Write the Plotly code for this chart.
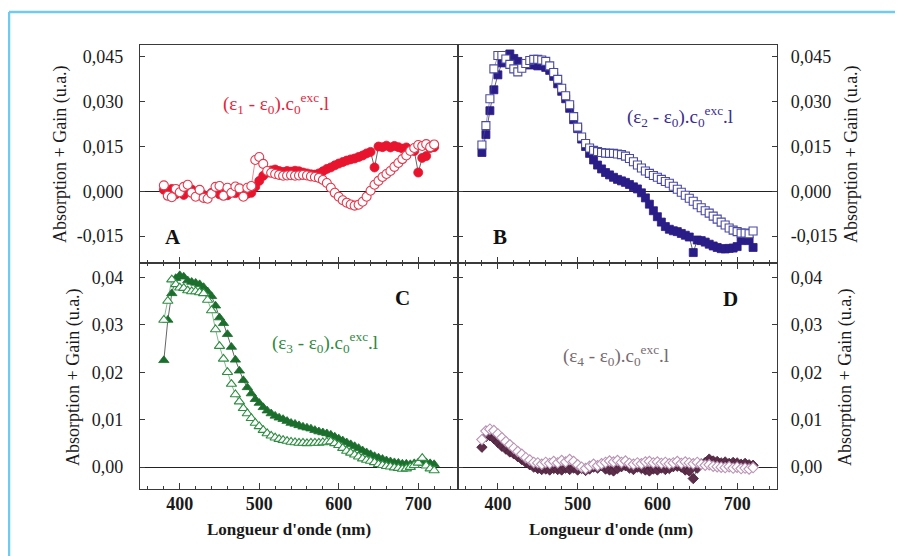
import plotly.graph_objects as go
from plotly.subplots import make_subplots

# ---------------- data ----------------
wavelength = [380, 385, 390, 395, 400, 405, 410, 415, 420, 425, 430, 435, 440, 445, 450,
              455, 460, 465, 470, 475, 480, 485, 490, 495, 500, 505, 510, 515, 520, 525,
              530, 535, 540, 545, 550, 555, 560, 565, 570, 575, 580, 585, 590, 595, 600,
              605, 610, 615, 620, 625, 630, 635, 640, 645, 650, 655, 660, 665, 670, 675,
              680, 685, 690, 695, 700, 705, 710, 715, 720]

a_filled = [0.0005, -0.0003, 0.0008, -0.0010, 0.0002, -0.0012, 0.0003, 0.0006, -0.0008, 0.0000,
            -0.0012, -0.0015, -0.0005, 0.0003, -0.0010, -0.0002, -0.0013, 0.0000, -0.0006, 0.0004,
            -0.0015, -0.0008, -0.0005, 0.0015, 0.0035, 0.0052, 0.0063, 0.0070, 0.0073, 0.0068,
            0.0065, 0.0068, 0.0066, 0.0069, 0.0067, 0.0063, 0.0060, 0.0057, 0.0056, 0.0060,
            0.0067, 0.0075, 0.0080, 0.0087, 0.0093, 0.0098, 0.0103, 0.0107, 0.0110, 0.0115,
            0.0120, 0.0127, 0.0132, 0.0080, 0.0150, 0.0148, 0.0153, 0.0147, 0.0152, 0.0148,
            0.0143, 0.0147, 0.0138, 0.0135, 0.0063, 0.0112, 0.0118, 0.0145, 0.0148]
a_open = [0.0020, -0.0015, -0.0020, 0.0008, -0.0003, 0.0015, 0.0022, -0.0005, -0.0018, 0.0005,
          -0.0022, -0.0025, -0.0008, 0.0015, 0.0018, -0.0015, 0.0012, -0.0005, 0.0016, 0.0010,
          -0.0018, 0.0012, 0.0018, 0.0105, 0.0115, 0.0092, 0.0068, 0.0062, 0.0058, 0.0055,
          0.0052, 0.0053, 0.0054, 0.0052, 0.0053, 0.0055, 0.0053, 0.0050, 0.0048, 0.0045,
          0.0038, 0.0028, 0.0012, -0.0005, -0.0018, -0.0030, -0.0038, -0.0044, -0.0048, -0.0045,
          -0.0035, -0.0018, 0.0002, 0.0022, 0.0035, 0.0048, 0.0058, 0.0068, 0.0082, 0.0095,
          0.0108, 0.0120, 0.0135, 0.0145, 0.0155, 0.0152, 0.0158, 0.0148, 0.0157]

b_filled = [0.0130, 0.0190, 0.0270, 0.0340, 0.0390, 0.0430, 0.0455, 0.0460, 0.0445, 0.0435,
            0.0425, 0.0428, 0.0423, 0.0425, 0.0420, 0.0422, 0.0415, 0.0405, 0.0385, 0.0360,
            0.0335, 0.0310, 0.0278, 0.0240, 0.0210, 0.0175, 0.0150, 0.0127, 0.0105, 0.0088,
            0.0075, 0.0063, 0.0055, 0.0047, 0.0040, 0.0035, 0.0030, 0.0023, 0.0015, 0.0008,
            -0.0005, -0.0022, -0.0043, -0.0065, -0.0085, -0.0103, -0.0118, -0.0127, -0.0132, -0.0135,
            -0.0141, -0.0147, -0.0153, -0.0205, -0.0163, -0.0165, -0.0170, -0.0177, -0.0183, -0.0188,
            -0.0192, -0.0193, -0.0191, -0.0190, -0.0185, -0.0165, -0.0158, -0.0165, -0.0188]
b_open = [0.0155, 0.0220, 0.0310, 0.0410, 0.0455, 0.0455, 0.0443, 0.0425, 0.0410, 0.0400,
          0.0412, 0.0428, 0.0438, 0.0442, 0.0442, 0.0440, 0.0435, 0.0420, 0.0398, 0.0375,
          0.0345, 0.0320, 0.0290, 0.0250, 0.0215, 0.0182, 0.0160, 0.0145, 0.0137, 0.0133,
          0.0130, 0.0128, 0.0127, 0.0127, 0.0125, 0.0123, 0.0118, 0.0110, 0.0099, 0.0088,
          0.0078, 0.0068, 0.0060, 0.0053, 0.0047, 0.0040, 0.0033, 0.0027, 0.0017, 0.0007,
          -0.0003, -0.0013, -0.0023, -0.0033, -0.0045, -0.0055, -0.0065, -0.0073, -0.0083, -0.0093,
          -0.0103, -0.0113, -0.0123, -0.0130, -0.0135, -0.0140, -0.0140, -0.0142, -0.0133]

c_filled = [0.0225, 0.0310, 0.0366, 0.0398, 0.0404, 0.0401, 0.0393, 0.0390, 0.0388, 0.0385,
            0.0379, 0.0370, 0.0360, 0.0340, 0.0315, 0.0303, 0.0280, 0.0253, 0.0226, 0.0203,
            0.0183, 0.0168, 0.0155, 0.0143, 0.0135, 0.0126, 0.0119, 0.0113, 0.0108, 0.0104,
            0.0101, 0.0097, 0.0093, 0.0091, 0.0088, 0.0085, 0.0083, 0.0081, 0.0078, 0.0075,
            0.0073, 0.0071, 0.0068, 0.0064, 0.0060, 0.0056, 0.0052, 0.0048, 0.0044, 0.0040,
            0.0035, 0.0031, 0.0027, 0.0023, 0.0020, 0.0017, 0.0014, 0.0012, 0.0010, 0.0009,
            0.0007, 0.0007, 0.0006, 0.0008, 0.0009, 0.0009, 0.0010, 0.0008, 0.0006]
c_open = [0.0310, 0.0350, 0.0395, 0.0385, 0.0378, 0.0377, 0.0372, 0.0370, 0.0370, 0.0368,
          0.0366, 0.0352, 0.0330, 0.0290, 0.0255, 0.0228, 0.0200, 0.0175, 0.0153, 0.0138,
          0.0124, 0.0113, 0.0103, 0.0093, 0.0086, 0.0078, 0.0071, 0.0066, 0.0062, 0.0059,
          0.0057, 0.0055, 0.0053, 0.0052, 0.0051, 0.0051, 0.0050, 0.0051, 0.0051, 0.0051,
          0.0052, 0.0053, 0.0054, 0.0050, 0.0046, 0.0040, 0.0034, 0.0030, 0.0026, 0.0022,
          0.0018, 0.0015, 0.0013, 0.0010, 0.0006, 0.0004, 0.0002, 0.0001, -0.0001, -0.0002,
          -0.0004, -0.0003, 0.0000, 0.0004, 0.0009, 0.0019, 0.0003, -0.0003, -0.0007]

d_filled = [0.0042, 0.0064, 0.0066, 0.0060, 0.0052, 0.0044, 0.0038, 0.0032, 0.0028, 0.0022,
            0.0016, 0.0010, 0.0005, 0.0000, -0.0003, -0.0005, -0.0004, -0.0006, -0.0003, -0.0005,
            -0.0006, -0.0002, -0.0005, -0.0002, -0.0006, -0.0003, -0.0007, -0.0004, 0.0000, -0.0002,
            0.0003, -0.0004, -0.0006, -0.0008, -0.0003, 0.0001, 0.0003, -0.0002, -0.0005, 0.0000,
            -0.0003, -0.0006, -0.0008, -0.0004, -0.0006, -0.0002, -0.0005, -0.0003, 0.0001, 0.0002,
            0.0000, -0.0006, -0.0008, -0.0024, -0.0002, 0.0007, 0.0010, 0.0017, 0.0013, 0.0012,
            0.0009, 0.0011, 0.0008, 0.0010, 0.0009, 0.0006, 0.0008, 0.0005, 0.0004]
d_open = [0.0058, 0.0076, 0.0080, 0.0077, 0.0070, 0.0062, 0.0054, 0.0047, 0.0040, 0.0033,
          0.0027, 0.0020, 0.0015, 0.0010, 0.0009, 0.0006, 0.0010, 0.0008, 0.0012, 0.0009,
          0.0014, 0.0011, 0.0016, 0.0012, 0.0005, 0.0000, -0.0003, 0.0002, 0.0006, 0.0003,
          0.0007, 0.0010, 0.0013, 0.0011, 0.0014, 0.0010, 0.0013, 0.0008, 0.0006, 0.0009,
          0.0007, 0.0011, 0.0012, 0.0009, 0.0011, 0.0008, 0.0010, 0.0007, 0.0009, 0.0012,
          0.0008, 0.0011, 0.0009, 0.0007, 0.0010, 0.0006, 0.0004, 0.0005, 0.0002, 0.0001,
          0.0000, -0.0001, 0.0001, -0.0002, 0.0000, -0.0003, -0.0002, -0.0004, -0.0001]

top_tickvals = [-0.015, 0.0, 0.015, 0.030, 0.045]
top_ticktext = ["-0,015", "0,000", "0,015", "0,030", "0,045"]
bottom_tickvals = [0.0, 0.01, 0.02, 0.03, 0.04]
bottom_ticktext = ["0,00", "0,01", "0,02", "0,03", "0,04"]
x_tickvals = [400, 500, 600, 700]
x_ticktext = ["400", "500", "600", "700"]

panel_letters = ["A", "B", "C", "D"]
formula_labels = [
    "(ε<sub>1</sub> - ε<sub>0</sub>).c<sub>0</sub><sup>exc</sup>.l",
    "(ε<sub>2</sub> - ε<sub>0</sub>).c<sub>0</sub><sup>exc</sup>.l",
    "(ε<sub>3</sub> - ε<sub>0</sub>).c<sub>0</sub><sup>exc</sup>.l",
    "(ε<sub>4</sub> - ε<sub>0</sub>).c<sub>0</sub><sup>exc</sup>.l",
]
y_title = "Absorption + Gain (u.a.)"
x_title = "Longueur d'onde (nm)"

# ---------------- layout geometry ----------------
# The page body has an 8 px margin, so the figure is drawn 8 px smaller and
# all screen positions below are converted with that offset.
OFF = 8
SW, SH = 903, 556                     # screen size
W, H = SW - OFF, SH - OFF             # figure size
# plot area in screen pixels: x 140..777, y 45..489
ML, MR, MT, MB = 140 - OFF, SW - 777, 45 - OFF, SH - 489
PW, PH = W - ML - MR, H - MT - MB


def px(xs):
    return (xs - OFF - ML) / PW


def py(ys):
    return (H - MB - (ys - OFF)) / PH


FONT = "Liberation Serif"
AXC = "#3a3a3a"
TXT = "#1a1a1a"

fig = make_subplots(rows=2, cols=2, horizontal_spacing=0, vertical_spacing=0,
                    column_widths=[318, 319], row_heights=[218, 226])

panels = [
    (1, 1, a_filled, a_open, "circle", "#e8142e", "#e8142e", "#e23a4e", 9),
    (1, 2, b_filled, b_open, "square", "#2b1d88", "#2b1d88", "#4a4aa2", 8),
    (2, 1, c_filled, c_open, "triangle-up", "#1b6e2c", "#1b6e2c", "#2e8d42", 9),
    (2, 2, d_filled, d_open, "diamond", "#5c2e4a", "#4a2038", "#b993b3", 8),
]

for r, c, filled, opened, sym, fcol, fline, ocol, msz in panels:
    fig.add_trace(go.Scatter(
        x=wavelength, y=filled, mode="lines+markers",
        line=dict(color="#222222", width=0.7),
        marker=dict(symbol=sym, size=msz, color=fcol, line=dict(color=fline, width=0.8)),
        showlegend=False, cliponaxis=True), row=r, col=c)
    fig.add_trace(go.Scatter(
        x=wavelength, y=opened, mode="lines+markers",
        line=dict(color=ocol, width=0.6),
        marker=dict(symbol=sym, size=msz, color="white", line=dict(color=ocol, width=1.1)),
        showlegend=False, cliponaxis=True), row=r, col=c)

common_x = dict(range=[350, 750], tickvals=x_tickvals, ticktext=x_ticktext,
                ticks="inside", ticklen=6, tickwidth=1, tickcolor=AXC,
                minor=dict(dtick=20, tick0=360, ticks="inside", ticklen=3, tickwidth=1, tickcolor=AXC),
                showline=True, linecolor=AXC, linewidth=1.2, showgrid=False, zeroline=False,
                tickfont=dict(family=FONT, size=18, color=TXT))

for r in (1, 2):
    for c in (1, 2):
        opts = dict(common_x)
        if r == 1:
            opts.update(showticklabels=False, mirror=True)
        else:
            opts.update(showticklabels=True, mirror="ticks", ticklabelstandoff=-2,
                        tickfont=dict(family=FONT, size=18, color=TXT, weight="bold"))
        fig.update_xaxes(row=r, col=c, **opts)

for r in (1, 2):
    for c in (1, 2):
        if r == 1:
            rng, tv, tt = [-0.024, 0.049], top_tickvals, top_ticktext
        else:
            rng, tv, tt = [-0.0046, 0.043], bottom_tickvals, bottom_ticktext
        fig.update_yaxes(row=r, col=c, range=rng, tickvals=tv, ticktext=tt,
                         side="left" if c == 1 else "right",
                         ticks="inside", ticklen=5, tickwidth=1, tickcolor=AXC,
                         showline=True, linecolor=AXC, linewidth=1.2, mirror="ticks",
                         showgrid=False, zeroline=True, zerolinecolor="#222222", zerolinewidth=1,
                         ticklabelstandoff=12 if c == 1 else 9,
                         tickfont=dict(family=FONT, size=18, color=TXT))

annotations = []
letter_pos = [(173, 237), (500, 237), (402, 298), (730, 299)]
for t, (x0, y0) in zip(panel_letters, letter_pos):
    annotations.append(dict(x=px(x0), y=py(y0), xref="paper", yref="paper", text=t,
                            showarrow=False, xanchor="center", yanchor="middle",
                            font=dict(family=FONT, size=21, color="#111111", weight="bold")))

formula_pos = [(276, 103), (680, 116), (325, 342), (616, 355)]
formula_cols = ["#e3263c", "#3b2e8e", "#2f8a3f", "#766b6f"]
for t, (x0, y0), col in zip(formula_labels, formula_pos, formula_cols):
    annotations.append(dict(x=px(x0), y=py(y0), xref="paper", yref="paper", text=t,
                            showarrow=False, xanchor="center", yanchor="middle",
                            font=dict(family=FONT, size=19, color=col)))

ytitle_pos = [(60, 154), (73, 377), (851, 154), (845, 377)]
for (x0, y0) in ytitle_pos:
    annotations.append(dict(x=px(x0), y=py(y0), xref="paper", yref="paper", text=y_title,
                            showarrow=False, textangle=-90, xanchor="center", yanchor="middle",
                            font=dict(family=FONT, size=18, color=TXT)))

xtitle_pos = [(289, 529), (611, 529)]
for (x0, y0) in xtitle_pos:
    annotations.append(dict(x=px(x0), y=py(y0), xref="paper", yref="paper", text=x_title,
                            showarrow=False, xanchor="center", yanchor="middle",
                            font=dict(family=FONT, size=17, color=TXT, weight="bold")))

# light-blue outer frame (top and left edges)
frame_col = "#70cbf0"
shapes = [
    dict(type="line", xref="paper", yref="paper", x0=px(9), x1=px(SW + 5), y0=py(12), y1=py(12),
         line=dict(color=frame_col, width=2.5)),
    dict(type="line", xref="paper", yref="paper", x0=px(9), x1=px(9), y0=py(12), y1=py(SH + 5),
         line=dict(color=frame_col, width=2.5)),
]

fig.update_layout(width=W, height=H, margin=dict(l=ML, r=MR, t=MT, b=MB),
                  paper_bgcolor="white", plot_bgcolor="white",
                  annotations=annotations, shapes=shapes, showlegend=False)

fig.write_html("out.html")
